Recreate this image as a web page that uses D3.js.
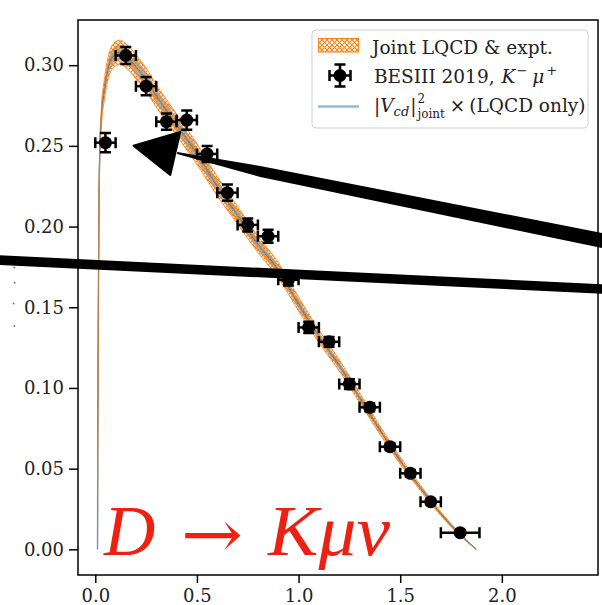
<!DOCTYPE html>
<html>
<head>
<meta charset="utf-8">
<script src="https://cdn.jsdelivr.net/npm/d3@7"></script>
<style>
  body { margin: 0; background: #fff; }
  svg { display: block; }
</style>
</head>
<body>
<div id="chart"></div>
<script>
// BESIII 2019 D -> K mu nu bins (q^2 in GeV^2)
const binQ2 = [0.05, 0.15, 0.25, 0.35, 0.45, 0.55, 0.65, 0.75, 0.85, 0.95, 1.05, 1.15, 1.25, 1.35, 1.45, 1.55, 1.65, 1.795];
const binHalfWidth = [0.05, 0.05, 0.05, 0.05, 0.05, 0.05, 0.05, 0.05, 0.05, 0.05, 0.05, 0.05, 0.05, 0.05, 0.05, 0.05, 0.05, 0.095];
const binRate = [0.252, 0.306, 0.287, 0.265, 0.266, 0.245, 0.221, 0.201, 0.194, 0.167, 0.1375, 0.1286, 0.1024, 0.088, 0.0636, 0.0471, 0.0295, 0.0103];
const binRateErr = [0.006, 0.0053, 0.0057, 0.005, 0.006, 0.005, 0.005, 0.004, 0.004, 0.0035, 0.0035, 0.003, 0.003, 0.0025, 0.002, 0.002, 0.0015, 0.0012];

// joint LQCD & expt. curve, central value and half width of the band
const curveQ2 = [0.011, 0.012, 0.014, 0.016, 0.018, 0.022, 0.03, 0.045, 0.065, 0.09, 0.12, 0.15, 0.2, 0.25, 0.3, 0.4, 0.5, 0.6, 0.7, 0.8, 0.9, 1.0, 1.1, 1.2, 1.3, 1.4, 1.5, 1.6, 1.7, 1.8, 1.874];
const curveRate = [0, 0.06, 0.12, 0.17, 0.21, 0.245, 0.268, 0.285, 0.299, 0.306, 0.308, 0.306, 0.299, 0.291, 0.281, 0.263, 0.245, 0.225, 0.207, 0.189, 0.173, 0.152, 0.132, 0.114, 0.094, 0.074, 0.055, 0.038, 0.022, 0.0085, 0];
const curveErr = [0, 0.0013, 0.0026, 0.004, 0.0045, 0.005, 0.0058, 0.0065, 0.007, 0.0075, 0.0075, 0.0075, 0.0075, 0.0073, 0.007, 0.0067, 0.0064, 0.006, 0.0055, 0.0051, 0.0047, 0.0043, 0.0039, 0.0035, 0.0031, 0.0026, 0.0022, 0.0017, 0.0012, 0.0007, 0];

const xTicks = [0, 0.5, 1, 1.5, 2];
const yTicks = [0, 0.05, 0.1, 0.15, 0.2, 0.25, 0.3];
const xDomain = [-0.085, 2.473];
const yDomain = [-0.0159, 0.328];

// hand drawn marks on top of the figure, in data units
const arrowHead = [[0.188, 0.2501], [0.418, 0.2587], [0.369, 0.2319]];
const arrowShaft = [[0.403, 0.2462], [0.812, 0.2375], [2.6, 0.1934], [2.6, 0.1839], [0.812, 0.2307], [0.403, 0.2449]];
const slashLine = [[-0.6, 0.18], [2.6, 0.1607]];
const strayDots = [[-0.398, 0.1747], [-0.397, 0.1652], [-0.402, 0.1524], [-0.398, 0.1384]];

const margin = { top: 20, right: 4, bottom: 30, left: 78 };
const width = 602 - margin.left - margin.right;
const height = 605 - margin.top - margin.bottom;

const svg = d3.select("#chart")
    .append("svg")
    .attr("width", 602)
    .attr("height", 605);

const defs = svg.append("defs");
defs.append("pattern")
    .attr("id", "hatch")
    .attr("patternUnits", "userSpaceOnUse")
    .attr("width", 5)
    .attr("height", 5)
    .append("path")
    .attr("d", "M0,0L5,5M5,0L0,5")
    .attr("stroke", "#ff7f0e")
    .attr("stroke-width", 1.1);
defs.append("clipPath").attr("id", "plotclip")
    .append("rect").attr("width", width).attr("height", height);

const g = svg.append("g")
    .attr("transform", `translate(${margin.left},${margin.top})`);

const x = d3.scaleLinear().domain(xDomain).range([0, width]);
const y = d3.scaleLinear().domain(yDomain).range([height, 0]);

const serif = "'DejaVu Serif', serif";

// axes
const yAxis = g.append("g")
    .call(d3.axisLeft(y).tickValues(yTicks).tickFormat(d3.format(".2f")).tickSize(9).tickPadding(5));
const xAxis = g.append("g")
    .attr("transform", `translate(0,${height})`)
    .call(d3.axisBottom(x).tickValues(xTicks).tickFormat(d3.format(".1f")).tickSize(8).tickPadding(6));
[xAxis, yAxis].forEach(a => {
    a.select(".domain").remove();
    a.selectAll(".tick line").attr("stroke", "#000").attr("stroke-width", 1.5);
    a.selectAll(".tick text").attr("fill", "#222").style("font-family", serif).style("font-size", "18px");
});

// curve + bands
const curve = curveQ2.map((q, i) => ({ q: q, v: curveRate[i], e: curveErr[i] }));
const plot = g.append("g").attr("clip-path", "url(#plotclip)");

plot.append("path")
    .datum(curve)
    .attr("fill", "#1f77b4")
    .attr("fill-opacity", 0.5)
    .attr("d", d3.area().curve(d3.curveMonotoneX)
        .x(d => x(d.q)).y0(d => y(d.v - 0.65 * d.e)).y1(d => y(d.v + 0.65 * d.e)));

plot.append("path")
    .datum(curve)
    .attr("fill", "none")
    .attr("stroke", "#2a6ea6")
    .attr("stroke-width", 1.3)
    .attr("d", d3.line().curve(d3.curveMonotoneX).x(d => x(d.q)).y(d => y(d.v)));

plot.append("path")
    .datum(curve)
    .attr("fill", "url(#hatch)")
    .attr("stroke", "#ff7f0e")
    .attr("stroke-width", 1)
    .attr("stroke-opacity", 0.8)
    .attr("d", d3.area().curve(d3.curveMonotoneX)
        .x(d => x(d.q)).y0(d => y(d.v - d.e)).y1(d => y(d.v + d.e)));

plot.append("path")
    .datum(curve)
    .attr("fill", "none")
    .attr("stroke", "#8a8a7a")
    .attr("stroke-width", 1)
    .attr("stroke-opacity", 0.6)
    .attr("d", d3.line().curve(d3.curveMonotoneX).x(d => x(d.q)).y(d => y(d.v)));

// data points with error bars
const points = binQ2.map((q, i) => ({ q: q, hw: binHalfWidth[i], v: binRate[i], e: binRateErr[i] }));
const cap = 5.5;
const pts = plot.append("g").attr("stroke", "#000").attr("stroke-width", 2.5)
    .selectAll("g").data(points).join("g");
pts.append("line").attr("x1", d => x(d.q - d.hw)).attr("x2", d => x(d.q + d.hw)).attr("y1", d => y(d.v)).attr("y2", d => y(d.v));
pts.append("line").attr("x1", d => x(d.q)).attr("x2", d => x(d.q)).attr("y1", d => y(d.v - d.e)).attr("y2", d => y(d.v + d.e));
pts.append("path").attr("d", d => {
    const l = x(d.q - d.hw), r = x(d.q + d.hw), cy = y(d.v);
    const cx = x(d.q), t = y(d.v + d.e), b = y(d.v - d.e);
    return `M${l},${cy - cap}V${cy + cap}M${r},${cy - cap}V${cy + cap}M${cx - cap},${t}H${cx + cap}M${cx - cap},${b}H${cx + cap}`;
});
pts.append("circle").attr("cx", d => x(d.q)).attr("cy", d => y(d.v)).attr("r", 6.5).attr("fill", "#000").attr("stroke", "none");

// frame
g.append("rect").attr("width", width).attr("height", height)
    .attr("fill", "none").attr("stroke", "#000").attr("stroke-width", 1.5);

// legend
const lg = g.append("g").attr("transform", `translate(${312 - margin.left},${30 - margin.top})`);
lg.append("rect").attr("width", 276).attr("height", 98).attr("rx", 4)
    .attr("fill", "#fff").attr("fill-opacity", 0.85).attr("stroke", "#d0d0d0").attr("stroke-width", 1);
lg.append("rect").attr("x", 6.5).attr("y", 8.5).attr("width", 40).attr("height", 13.5)
    .attr("fill", "url(#hatch)").attr("stroke", "#ff7f0e").attr("stroke-width", 1);
const lm = lg.append("g").attr("stroke", "#000").attr("stroke-width", 2.5).attr("transform", "translate(28,45.5)");
lm.append("path").attr("d", `M-10.5,0H10.5M0,-11V11M-10.5,-${cap}V${cap}M10.5,-${cap}V${cap}M-${cap},-11H${cap}M-${cap},11H${cap}`);
lm.append("circle").attr("r", 6.5).attr("fill", "#000").attr("stroke", "none");
lg.append("line").attr("x1", 6).attr("x2", 47).attr("y1", 76.5).attr("y2", 76.5)
    .attr("stroke", "#1f77b4").attr("stroke-opacity", 0.5).attr("stroke-width", 2.5);

function writeMath(parent, x0, yBase, pieces) {
    let cx = x0;
    pieces.forEach(p => {
        const t = parent.append("text")
            .attr("x", cx).attr("y", yBase + (p.dy || 0))
            .attr("fill", "#222")
            .style("font-family", serif)
            .style("font-size", (p.size || 18.5) + "px")
            .style("font-style", p.it ? "italic" : "normal")
            .text(p.t);
        if (!p.stack) cx += t.node().getComputedTextLength() + (p.gap || 0);
    });
}
writeMath(lg, 60, 23.5, [{ t: "Joint LQCD & expt." }]);
writeMath(lg, 62, 52.5, [
    { t: "BESIII 2019,", gap: 7 }, { t: "K", it: true, gap: 1 }, { t: "\u2212", size: 13, dy: -8, gap: 5 },
    { t: "\u03bc", it: true, gap: 2 }, { t: "+", size: 13, dy: -8 }
]);
writeMath(lg, 62, 82, [
    { t: "|" }, { t: "V", it: true }, { t: "cd", it: true, size: 13, dy: 4, gap: 1 }, { t: "|", gap: 1 },
    { t: "2", size: 12, dy: -9, stack: true }, { t: "joint", size: 12, dy: 6, gap: 5 },
    { t: "\u00d7", gap: 4 }, { t: "(LQCD only)" }
]);

// red process label
const red = "#ec2112";
const labelFont = "'Liberation Serif', serif";
svg.append("text").attr("x", 104).attr("y", 555).attr("fill", red)
    .style("font-family", labelFont).style("font-size", "71px").style("font-style", "italic").text("D");
svg.append("text").attr("x", 181).attr("y", 557).attr("fill", red)
    .attr("textLength", 62).attr("lengthAdjust", "spacingAndGlyphs")
    .style("font-family", serif).style("font-size", "66px").text("\u2192");
svg.append("text").attr("x", 268).attr("y", 555).attr("fill", red)
    .attr("textLength", 122).attr("lengthAdjust", "spacingAndGlyphs")
    .style("font-family", labelFont).style("font-size", "71px").style("font-style", "italic").text("K\u03bc\u03bd");

// overlay strokes
const over = g.append("g").attr("fill", "#000");
over.append("path").attr("d", "M" + arrowHead.map(p => [x(p[0]), y(p[1])]).join("L") + "Z")
    .attr("stroke", "#000").attr("stroke-width", 2).attr("stroke-linejoin", "round");
over.append("path").attr("d", "M" + arrowShaft.map(p => [x(p[0]), y(p[1])]).join("L") + "Z");
over.append("line")
    .attr("x1", x(slashLine[0][0])).attr("y1", y(slashLine[0][1]))
    .attr("x2", x(slashLine[1][0])).attr("y2", y(slashLine[1][1]))
    .attr("stroke", "#000").attr("stroke-width", 9.5);
over.selectAll("circle").data(strayDots).join("circle")
    .attr("cx", d => x(d[0])).attr("cy", d => y(d[1])).attr("r", 1).attr("fill", "#777");
</script>
</body>
</html>
